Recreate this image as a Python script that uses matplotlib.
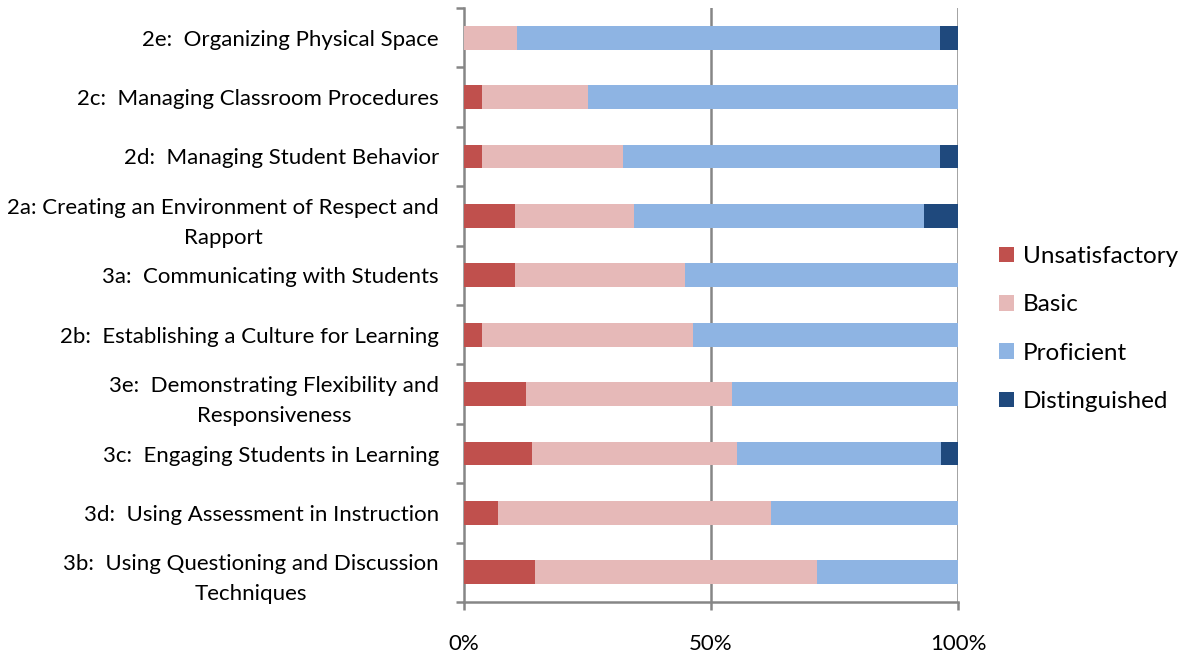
import matplotlib
matplotlib.use("Agg")
import matplotlib.pyplot as plt
from matplotlib.patches import Patch
import numpy as np

plt.rcParams['font.family'] = ['Lato', 'DejaVu Sans']

categories = [
    "2e:  Organizing Physical Space",
    "2c:  Managing Classroom Procedures",
    "2d:  Managing Student Behavior",
    "2a: Creating an Environment of Respect and\nRapport",
    "3a:  Communicating with Students",
    "2b:  Establishing a Culture for Learning",
    "3e:  Demonstrating Flexibility and\nResponsiveness",
    "3c:  Engaging Students in Learning",
    "3d:  Using Assessment in Instruction",
    "3b:  Using Questioning and Discussion\nTechniques",
]
unsatisfactory = [0.0, 3.6, 3.6, 10.3, 10.3, 3.6, 12.5, 13.8, 6.9, 14.3]
basic          = [10.7, 21.4, 28.5, 24.2, 34.5, 42.8, 41.7, 41.4, 55.2, 57.1]
proficient     = [85.7, 75.0, 64.3, 58.6, 55.2, 53.6, 45.8, 41.4, 37.9, 28.6]
distinguished  = [3.6, 0.0, 3.6, 6.9, 0.0, 0.0, 0.0, 3.4, 0.0, 0.0]
series_names = ["Unsatisfactory", "Basic", "Proficient", "Distinguished"]
colors = ["#C0504D", "#E6B9B8", "#8EB4E3", "#1F497D"]
x_ticks = [0, 50, 100]
x_tick_labels = ["0%", "50%", "100%"]

fig = plt.figure(figsize=(11.85, 6.58), dpi=100)
ax = fig.add_axes([464/1185, 1-602/658, (958-464)/1185, (602-8)/658])

y = np.arange(len(categories))
left = np.zeros(len(categories))
for vals, c in zip([unsatisfactory, basic, proficient, distinguished], colors):
    v = np.array(vals)
    ax.barh(y, v, left=left, height=0.4, color=c, edgecolor='none', zorder=3)
    left += v

ax.set_xlim(0, 100)
ax.set_ylim(len(categories)-0.5, -0.5)

grid_col = "#868686"
for xv in [50, 100]:
    ax.axvline(xv, color=grid_col, lw=1.8, zorder=1)

for s in ['top', 'right']:
    ax.spines[s].set_visible(False)
ax.spines['left'].set_color(grid_col)
ax.spines['bottom'].set_color(grid_col)
ax.spines['left'].set_linewidth(1.8)
ax.spines['bottom'].set_linewidth(1.8)

ax.set_yticks(y)
ax.set_yticklabels(categories, fontsize=16, ha='right', multialignment='center',
                   linespacing=1.6)
ax.tick_params(axis='y', which='major', length=0, pad=18)
ax.set_yticks(np.arange(-0.5, len(categories), 1.0), minor=True)
ax.tick_params(axis='y', which='minor', length=6, width=1.8, color=grid_col)

ax.set_xticks(x_ticks)
ax.set_xticklabels(x_tick_labels, fontsize=16)
ax.tick_params(axis='x', which='major', length=6, width=1.8, color=grid_col, pad=17)

handles = [Patch(facecolor=c, edgecolor='none') for c in colors]
fig.legend(handles, series_names, loc='center left', bbox_to_anchor=(999/1185, 1-329/658),
           frameon=False, fontsize=17.5, handlelength=0.6, handleheight=0.6,
           handletextpad=0.37, labelspacing=1.12, borderaxespad=0, borderpad=0)

fig.savefig("out.png", dpi=100)
